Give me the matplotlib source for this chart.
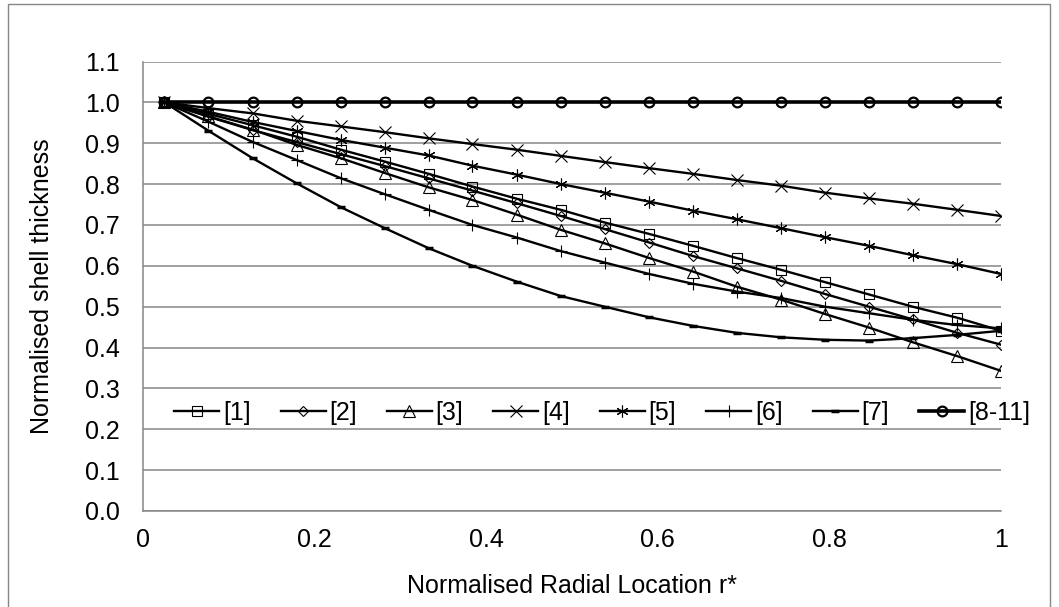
import numpy as np
import matplotlib.pyplot as plt
from matplotlib.patches import Rectangle

plt.rcParams['font.family'] = ['Liberation Sans', 'DejaVu Sans']

# normalised radial location of the 20 stations
r_star = [0.025, 0.076, 0.128, 0.179, 0.231, 0.282, 0.333, 0.384, 0.436, 0.487,
          0.538, 0.590, 0.641, 0.692, 0.744, 0.795, 0.846, 0.897, 0.949, 1.0]

# normalised shell thickness
ref1 = [1.0, 0.972, 0.944, 0.916, 0.884, 0.855, 0.825, 0.794, 0.764, 0.737,
        0.706, 0.678, 0.649, 0.619, 0.590, 0.560, 0.530, 0.500, 0.473, 0.441]
ref2 = [1.0, 0.965, 0.932, 0.903, 0.873, 0.844, 0.814, 0.784, 0.753, 0.722,
        0.690, 0.657, 0.624, 0.594, 0.563, 0.531, 0.500, 0.469, 0.436, 0.407]
ref3 = [1.0, 0.966, 0.933, 0.896, 0.863, 0.827, 0.792, 0.761, 0.725, 0.688,
        0.655, 0.619, 0.586, 0.549, 0.517, 0.482, 0.449, 0.413, 0.379, 0.343]
ref4 = [1.0, 0.986, 0.973, 0.955, 0.941, 0.927, 0.912, 0.898, 0.884, 0.869,
        0.854, 0.839, 0.825, 0.810, 0.796, 0.779, 0.765, 0.752, 0.737, 0.722]
ref5 = [1.0, 0.977, 0.952, 0.930, 0.908, 0.889, 0.870, 0.845, 0.823, 0.800,
        0.779, 0.757, 0.735, 0.714, 0.692, 0.670, 0.649, 0.626, 0.604, 0.580]
ref6 = [1.0, 0.953, 0.903, 0.859, 0.814, 0.775, 0.737, 0.700, 0.669, 0.636,
        0.608, 0.580, 0.556, 0.537, 0.521, 0.500, 0.484, 0.468, 0.455, 0.447]
ref7 = [1.0, 0.931, 0.863, 0.802, 0.743, 0.692, 0.643, 0.600, 0.561, 0.526,
        0.500, 0.474, 0.453, 0.436, 0.425, 0.419, 0.417, 0.423, 0.431, 0.441]
ref8_11 = [1.0] * 20

labels = ['[1]', '[2]', '[3]', '[4]', '[5]', '[6]', '[7]', '[8-11]']

fig = plt.figure(figsize=(10.59, 6.07), dpi=100)
ax = fig.add_axes([143 / 1059, 1 - 511 / 607, 858 / 1059, 449.5 / 607])

# outer chart border
fig.patches.append(Rectangle((8 / 1059, -0.02), 1042 / 1059, 1.013, transform=fig.transFigure,
                             fill=False, edgecolor='#868686', lw=1.0, zorder=0))

lw = 1.7
ax.plot(r_star, ref1, color='black', lw=lw, marker='s', ms=7, mfc='none', mec='black', mew=0.8, label=labels[0])
ax.plot(r_star, ref2, color='black', lw=lw, marker='D', ms=5.5, mfc='none', mec='black', mew=0.8, label=labels[1])
ax.plot(r_star, ref3, color='black', lw=lw, marker='^', ms=8, mfc='none', mec='black', mew=0.8, label=labels[2])
ax.plot(r_star, ref4, color='black', lw=lw, marker='x', ms=8.5, mec='black', mew=0.8, label=labels[3])
ax.plot(r_star, ref5, color='black', lw=lw, marker=(6, 2, 0), ms=8.5, mec='black', mew=0.8, label=labels[4])
ax.plot(r_star, ref6, color='black', lw=lw, marker='+', ms=9, mec='black', mew=0.8, label=labels[5])
ax.plot(r_star, ref7, color='black', lw=lw, marker='_', ms=6, mec='black', mew=2.5, label=labels[6])
ax.plot(r_star, ref8_11, color='black', lw=2.6, marker='o', ms=7, mfc='none', mec='black', mew=1.6, label=labels[7])

ax.set_xlim(0, 1)
ax.set_ylim(0, 1.1)
ax.set_xticks([0, 0.2, 0.4, 0.6, 0.8, 1.0])
ax.set_xticklabels(['0', '0.2', '0.4', '0.6', '0.8', '1'])
ax.set_yticks(np.arange(0, 1.11, 0.1))
ax.set_yticklabels([f'{v:.1f}' for v in np.arange(0, 1.11, 0.1)])
ax.tick_params(axis='both', length=0, labelsize=18)
ax.tick_params(axis='x', pad=12)
ax.tick_params(axis='y', pad=17)

ax.grid(axis='y', color='#868686', lw=1.1)
ax.set_axisbelow(True)
for side in ['top', 'right']:
    ax.spines[side].set_visible(False)
for side in ['left', 'bottom']:
    ax.spines[side].set_color('#868686')
    ax.spines[side].set_linewidth(1.1)

ax.set_xlabel('Normalised Radial Location r*', fontsize=18, labelpad=16)
ax.set_ylabel('Normalised shell thickness', fontsize=18, labelpad=22)

ax.legend(loc='center', bbox_to_anchor=(602 / 1059, 1 - 413 / 607), bbox_transform=fig.transFigure,
          ncol=8, frameon=False, fontsize=18, handlelength=1.8, handletextpad=0.15,
          columnspacing=1.2, borderpad=0)

fig.savefig('out.png', dpi=100)
